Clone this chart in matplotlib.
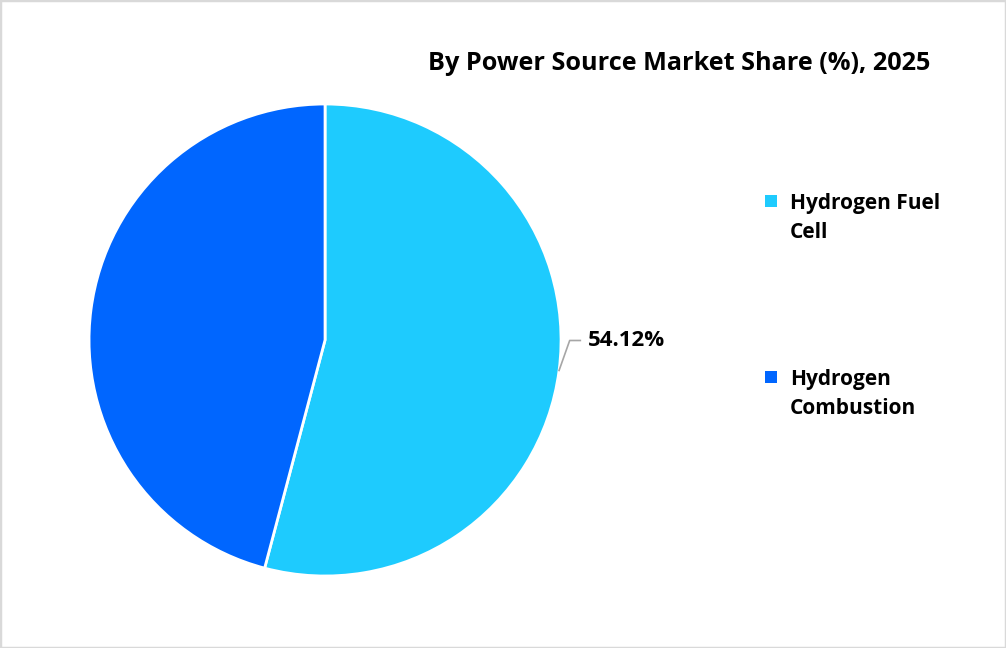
import matplotlib.pyplot as plt
from matplotlib.patches import Rectangle
import numpy as np

# data
labels = ['Hydrogen Fuel\nCell', 'Hydrogen\nCombustion']
shares = [54.12, 45.88]
colors = ['#1ECBFE', '#0066FF']
title = 'By Power Source Market Share (%), 2025'

plt.rcParams['font.family'] = ['Open Sans', 'DejaVu Sans']

W, H = 1006, 648
fig = plt.figure(figsize=(W / 100, H / 100), dpi=100)
fig.patches.append(Rectangle((0, 0), 1, 1, transform=fig.transFigure,
                             fill=False, edgecolor='#D9D9D9', linewidth=2.5))

ax = fig.add_axes([0.0885, 0.1111, 0.4692, 0.7284])
wedges, _ = ax.pie(shares, colors=colors, startangle=90, counterclock=False,
                   radius=1, wedgeprops=dict(edgecolor='white', linewidth=2))
ax.set_xlim(-1, 1)
ax.set_ylim(-1, 1)
ax.set_aspect('equal')

# label for the first slice with a bent leader line
w = wedges[0]
mid = np.deg2rad((w.theta1 + w.theta2) / 2)
x0, y0 = np.cos(mid), np.sin(mid)
ax.plot([x0, x0 + 0.045, x0 + 0.09], [y0, y0 + 0.127, y0 + 0.127],
        color='#A6A6A6', lw=1.2, clip_on=False)
ax.text(x0 + 0.12, y0 + 0.127, f'{shares[0]:.2f}%', fontsize=16,
        fontweight='bold', va='center', ha='left')

fig.text(0.925, 1 - 63 / H, title, fontsize=18.2, fontweight='bold',
         ha='right', va='center')

# legend drawn by hand so the marker sits on the first text line
first_line = [201, 377]
line_gap = 29
for lab, col, yl in zip(labels, colors, first_line):
    fig.patches.append(Rectangle((765 / W, 1 - (yl + 6) / H), 12 / W, 12 / H,
                                 transform=fig.transFigure, facecolor=col,
                                 edgecolor='none'))
    fig.text(790 / W, 1 - (yl + line_gap / 2 + 2.5) / H, lab, fontsize=15,
             fontweight='bold', ha='left', va='center', linespacing=1.45)

fig.savefig('out.png', dpi=100)
